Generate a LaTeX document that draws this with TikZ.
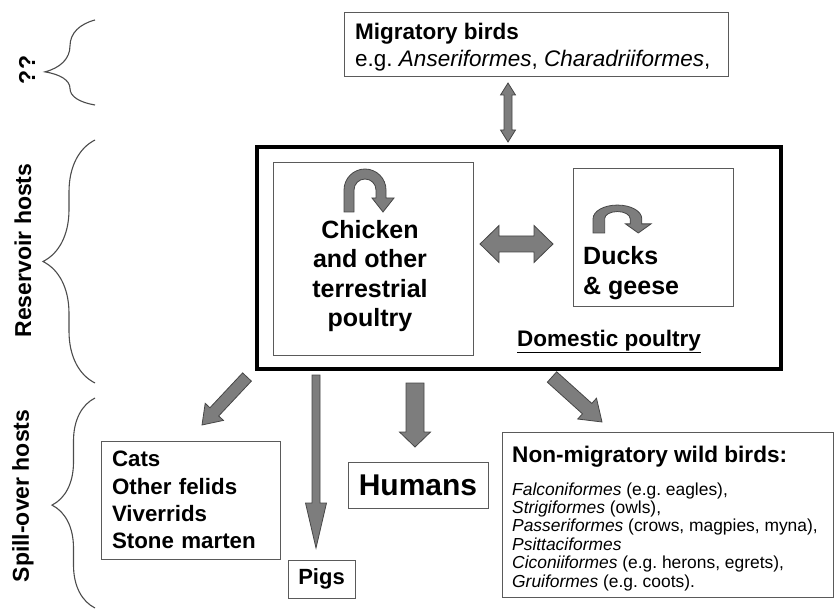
\documentclass[tikz,border=0pt]{standalone}
\usepackage{fontspec}
\setmainfont{Liberation Sans}
\usetikzlibrary{calc,decorations.pathreplacing}
\definecolor{arrowfill}{RGB}{125,125,125}
\definecolor{arrowline}{RGB}{70,70,70}
\definecolor{boxline}{RGB}{90,90,90}
\frenchspacing

\newcommand\fsize[2]{\fontsize{#1}{#2}\selectfont}

\tikzset{
    hostbox/.style={draw=boxline, line width=1pt, inner sep=0pt},
    hosttext/.style={anchor=north west, align=left, inner sep=0pt},
    blockarrow/.style={fill=arrowfill, draw=arrowline, line width=0.8pt},
    hostbrace/.style={draw=black!70, line width=1.1pt, decorate},
    sidelabel/.style={rotate=90, font=\bfseries\fsize{23}{27}, inner sep=0pt},
}

% from, to, shaft half width, head half width, head length
\newcommand\singleArrow[5]{%
    \filldraw[blockarrow] let \p1=(#1), \p2=(#2),
        \n1={atan2(\y2-\y1,\x2-\x1)}, \n2={veclen(\x2-\x1,\y2-\y1)} in
        [shift={(\p1)}, rotate=\n1]
        (0,-#3) -- (\n2-#5,-#3) -- (\n2-#5,-#4) -- (\n2,0)
        -- (\n2-#5,#4) -- (\n2-#5,#3) -- (0,#3) -- cycle;
}
\newcommand\doubleArrow[5]{%
    \filldraw[blockarrow] let \p1=(#1), \p2=(#2),
        \n1={atan2(\y2-\y1,\x2-\x1)}, \n2={veclen(\x2-\x1,\y2-\y1)} in
        [shift={(\p1)}, rotate=\n1]
        (0,0) -- (#5,#4) -- (#5,#3) -- (\n2-#5,#3) -- (\n2-#5,#4) -- (\n2,0)
        -- (\n2-#5,-#4) -- (\n2-#5,-#3) -- (#5,-#3) -- (#5,-#4) -- cycle;
}
% centre, xscale, yscale
\newcommand\turnArrow[3]{%
    \filldraw[blockarrow, shift={(#1)}, xscale=#2, yscale=#3]
        (-21,22) -- (-21,0) arc[start angle=180, end angle=360, radius=21]
        -- (21,8) -- (29,8) -- (18,22) -- (7,8) -- (11,8)
        -- (11,0) arc[start angle=360, end angle=180, radius=11]
        -- (-11,22) -- cycle;
}

\begin{document}
\begin{tikzpicture}[x=1pt, y=-1pt]
    \useasboundingbox (0,0) rectangle (834,609);

    % host groups on the left
    \draw[hostbrace, decoration={brace, amplitude=50pt, aspect=0.39}] (95,105) -- (95,20);
    \draw[hostbrace, decoration={brace, amplitude=52pt}] (95,383) -- (95,140);
    \draw[hostbrace, decoration={brace, amplitude=43pt, aspect=0.49}] (95,608) -- (95,398);
    \node[sidelabel] (unknown) at (27,70) {??};
    \node[sidelabel] (reservoir) at (23,250.5) {Reservoir hosts};
    \node[sidelabel] (spillover) at (23,496) {Spill-over hosts};

    % migratory birds
    \node[hostbox, minimum width=384pt, minimum height=64pt] (migratory) at (536,45) {};
    \node[hosttext, font=\fsize{22.5}{27}] (migratorytext) at (355,23.5)
        {{\bfseries Migratory birds}\\e.g. \textit{Anseriformes}, \textit{Charadriiformes},};

    % domestic poultry
    \node[draw, line width=4pt, minimum width=524pt, minimum height=222pt] (poultry) at (519,258) {};
    \node[hostbox, minimum width=200pt, minimum height=192pt] (chicken) at (373,259) {};
    \node[font=\bfseries\fsize{25}{29.5}, align=center, inner sep=0pt] (chickentext) at (370,276)
        {Chicken\\and other\\terrestrial\\poultry};
    \node[hostbox, minimum width=160pt, minimum height=137pt] (ducks) at (653,237.5) {};
    \node[anchor=west, font=\bfseries\fsize{25}{30}, align=left, inner sep=0pt] (duckstext) at (583,273.5)
        {Ducks\\\& geese};
    \node[anchor=base, font=\bfseries\fsize{22.5}{27}, inner sep=0pt] (domestic) at (609,346)
        {\underline{Domestic poultry}};
    \turnArrow{365,190}{1}{1}
    \turnArrow{617.4,218.7}{1.16}{0.65}

    % spill-over hosts
    \node[hostbox, minimum width=179pt, minimum height=118pt, text width=157pt, inner xsep=11pt,
          align=left, font=\bfseries\fsize{22.3}{27.3}] (cats) at (190.5,500)
        {Cats\\Other felids\\Viverrids\\Stone marten};
    \node[hostbox, minimum width=67pt, minimum height=38pt, font=\bfseries\fsize{22}{26}] (pigs) at (321.5,579) {Pigs};
    \node[hostbox, minimum width=140pt, minimum height=46pt, font=\bfseries\fsize{30}{36}] (humans) at (418,485) {Humans};
    \node[hostbox, minimum width=331pt, minimum height=165pt] (wildbirds) at (667.5,514.5) {};
    \node[hosttext, font=\fsize{17.4}{18.4}] (wildtext) at (512,445.5)
        {{\bfseries\fsize{22.6}{27}Non-migratory wild birds:}\\[14.6pt]
         \textit{Falconiformes} (e.g. eagles),\\
         \textit{Strigiformes} (owls),\\
         \textit{Passeriformes} (crows, magpies, myna),\\
         \textit{Psittaciformes}\\
         \textit{Ciconiiformes} (e.g. herons, egrets),\\
         \textit{Gruiformes} (e.g. coots).};

    % arrow ends
    \coordinate (migArrowA) at (508,83);
    \coordinate (migArrowB) at (508,142);
    \coordinate (poultryArrowA) at (480,244);
    \coordinate (poultryArrowB) at (553,244);
    \coordinate (catsArrowA) at (247,377);
    \coordinate (catsArrowB) at (202,425);
    \coordinate (pigsArrowA) at (316,375);
    \coordinate (pigsArrowB) at (316,548);
    \coordinate (humansArrowA) at (415,383);
    \coordinate (humansArrowB) at (415,447);
    \coordinate (wildArrowA) at (552,377);
    \coordinate (wildArrowB) at (602,422);

    \doubleArrow{migArrowA}{migArrowB}{4}{7.5}{12}
    \doubleArrow{poultryArrowA}{poultryArrowB}{8}{18.5}{19}
    \singleArrow{catsArrowA}{catsArrowB}{6}{12.5}{18}
    \singleArrow{pigsArrowA}{pigsArrowB}{4}{10.5}{45}
    \singleArrow{humansArrowA}{humansArrowB}{9}{15.5}{15}
    \singleArrow{wildArrowA}{wildArrowB}{7}{14}{20}
\end{tikzpicture}
\end{document}
